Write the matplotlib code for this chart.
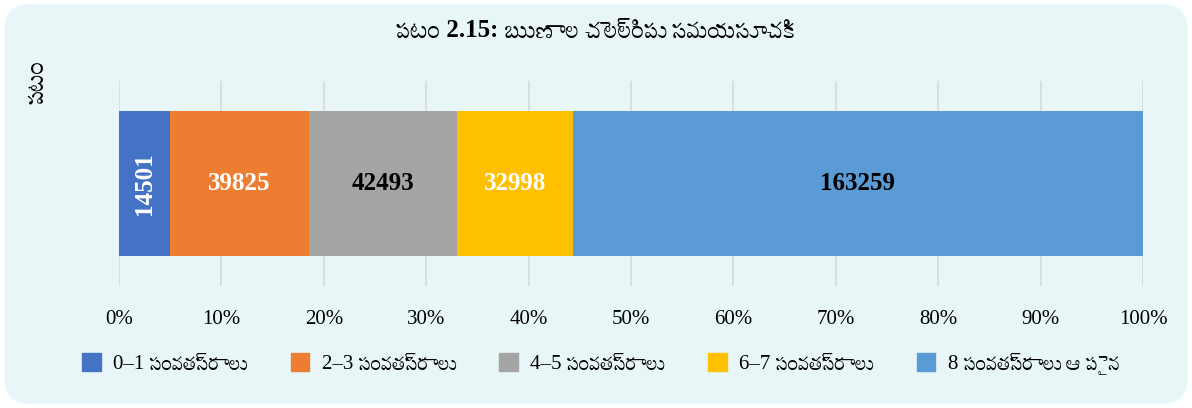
import matplotlib

matplotlib.use("Agg")
import matplotlib.pyplot as plt
from matplotlib import font_manager
from matplotlib.patches import FancyBboxPatch

title = "పటం 2.15: ఋణాల చెల్లింపు సమయసూచిక"
y_title = "పటం"
categories = [
    "0–1 సంవత్సరాలు",
    "2–3 సంవత్సరాలు",
    "4–5 సంవత్సరాలు",
    "6–7 సంవత్సరాలు",
    "8 సంవత్సరాలు ఆ పైన",
]
values = [14501, 39825, 42493, 32998, 163259]
colors = ["#4472C4", "#ED7D31", "#A5A5A5", "#FFC000", "#5B9BD5"]
label_colors = ["white", "white", "black", "white", "black"]
ticks = [0, 10, 20, 30, 40, 50, 60, 70, 80, 90, 100]

installed = {f.name for f in font_manager.fontManager.ttflist}
telugu = next(n for n in ["Suranna", "Ramaraja", "Noto Serif Telugu", "Noto Sans Telugu", "Anek Telugu"]
              if n in installed)
FAMILY = ["Liberation Serif", telugu, "DejaVu Sans"]
plt.rcParams["font.family"] = FAMILY

fig = plt.figure(figsize=(11.92, 4.08), dpi=100)
fig.patch.set_facecolor("white")
bg = FancyBboxPatch((0.004, 0.01), 0.992, 0.98, boxstyle="round,pad=0,rounding_size=0.02",
                    transform=fig.transFigure, facecolor="#E8F6F8", edgecolor="none",
                    mutation_aspect=1192 / 408, zorder=-5)
fig.patches.append(bg)

ax = fig.add_axes([119 / 1192, 1 - 286 / 408, 1024 / 1192, 205 / 408])
ax.set_facecolor("none")

total = sum(values)
left = 0.0
for val, col, lc in zip(values, colors, label_colors):
    w = val / total * 100
    ax.barh(0, w, left=left, height=0.71, color=col, zorder=3)
    rot = 90 if w < 8 else 0
    ax.text(left + w / 2, 0, f"{val}", ha="center", va="center", color=lc,
            fontsize=18, fontweight="bold", rotation=rot, zorder=4)
    left += w

ax.set_xlim(0, 100)
ax.set_ylim(-0.5, 0.5)
ax.set_xticks(ticks)
ax.set_xticklabels([f"{t}%" for t in ticks], fontsize=15)
ax.set_yticks([])
ax.tick_params(axis="x", length=0, pad=17)
ax.grid(axis="x", color="#D9D9D9", linewidth=1.2, zorder=0)
for s in ax.spines.values():
    s.set_visible(False)

fig.text(0.5, 1 - 30 / 408, title, ha="center", va="center", fontsize=18, fontweight="bold")
fig.text(36 / 1192, 1 - 82 / 408, y_title, ha="center", va="center", rotation=90,
         fontsize=18, fontweight="bold")

handles = [plt.Rectangle((0, 0), 1, 1, color=c) for c in colors]
fig.legend(handles, categories, loc="center", bbox_to_anchor=(0.504, 1 - 364 / 408),
           ncol=5, frameon=False, fontsize=15, handlelength=0.9, handleheight=0.9,
           columnspacing=2.1, handletextpad=0.6)

fig.savefig("out.png", dpi=100)
